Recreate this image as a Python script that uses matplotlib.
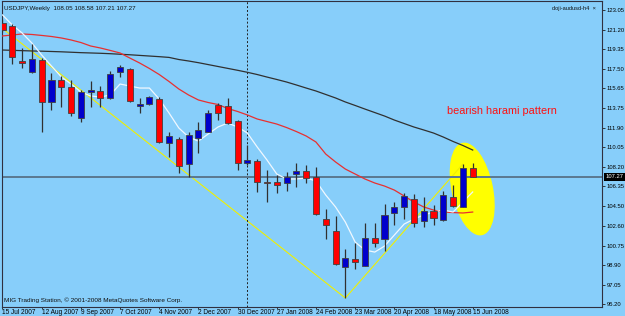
import matplotlib
matplotlib.use("Agg")
import matplotlib.pyplot as plt
import numpy as np
from matplotlib.patches import Ellipse
from matplotlib.transforms import ScaledTranslation, blended_transform_factory

# weekly USDJPY candles, 15 Jul 2007 .. 15 Jun 2008
opens = [121.82, 121.54, 118.22, 117.18, 118.32, 114.34, 116.42, 115.76, 112.83, 115.29,
         115.38, 114.72, 117.18, 117.47, 113.96, 114.15, 114.62, 110.46, 110.84, 108.47,
         110.93, 111.50, 114.06, 113.96, 112.54, 108.56, 108.75, 106.76, 106.76, 106.67,
         107.52, 107.81, 107.24, 103.26, 102.12, 98.72, 99.47, 98.81, 101.46, 101.37,
         103.83, 104.40, 105.15, 103.07, 104.02, 103.17, 105.34, 104.40, 108.05]
highs = [122.20, 121.73, 119.45, 119.83, 118.51, 117.09, 116.80, 116.42, 115.48, 116.33,
         115.86, 117.28, 117.84, 117.56, 114.72, 114.91, 114.81, 111.50, 111.03, 111.50,
         112.45, 113.58, 114.25, 114.72, 112.64, 110.27, 108.94, 107.90, 107.43, 107.71,
         108.56, 108.37, 108.18, 104.21, 103.54, 100.42, 100.99, 102.88, 102.88, 104.68,
         104.87, 105.72, 105.63, 105.34, 104.59, 105.91, 106.48, 108.47, 108.58]
lows = [120.97, 117.94, 117.56, 117.09, 111.50, 113.58, 113.87, 113.01, 112.45, 113.87,
        113.87, 114.62, 116.71, 114.34, 113.30, 114.06, 110.46, 109.13, 107.62, 107.24,
        109.51, 111.50, 112.64, 112.26, 107.90, 108.37, 105.82, 104.87, 105.72, 105.91,
        106.29, 106.67, 103.64, 101.37, 98.90, 95.78, 98.53, 98.81, 100.61, 100.23,
        102.69, 103.26, 102.50, 102.50, 102.69, 103.07, 104.40, 104.40, 107.21]
closes = [121.16, 118.60, 118.03, 118.41, 114.34, 116.42, 115.76, 113.30, 115.29, 115.48,
          114.72, 116.99, 117.66, 114.44, 114.15, 114.81, 110.55, 111.12, 108.28, 111.22,
          111.69, 113.30, 113.30, 112.35, 108.56, 108.85, 106.76, 106.67, 106.48, 107.24,
          107.81, 107.14, 103.73, 102.69, 99.00, 99.57, 99.19, 101.46, 100.99, 103.64,
          104.40, 105.44, 102.88, 104.02, 103.35, 105.53, 104.49, 108.09, 107.27]

ma_fast = [122.58, 121.63, 120.87, 119.92, 118.79, 117.75, 116.71, 116.04, 115.29, 114.91,
           114.81, 115.00, 116.04, 115.85, 115.66, 115.66, 114.62, 113.30, 111.88, 111.02,
           110.64, 111.31, 111.97, 112.35, 111.97, 111.40, 110.08, 108.85, 107.52, 107.05,
           107.05, 107.14, 106.86, 105.53, 104.40, 102.97, 101.08, 100.32, 100.13, 100.70,
           101.74, 102.78, 103.26, 103.64, 103.92, 104.11, 103.92, 104.87, 105.82]
ma_mid = [120.59, 120.68, 120.78, 120.73, 120.64, 120.54, 120.40, 120.21, 119.97, 119.64,
          119.45, 119.22, 118.98, 118.50, 118.03, 117.51, 116.94, 116.28, 115.57, 115.00,
          114.53, 114.29, 114.10, 113.72, 113.44, 113.11, 112.73, 112.49, 112.25, 111.92,
          111.54, 111.12, 110.55, 109.41, 108.66, 107.99, 107.52, 107.05, 106.67, 106.38,
          106.00, 105.44, 104.87, 104.40, 104.11, 103.92, 103.87, 103.83, 103.92]
ma_slow = [119.26, 119.23, 119.20, 119.17, 119.15, 119.12, 119.09, 119.05, 119.01, 118.98,
           118.95, 118.91, 118.86, 118.81, 118.75, 118.69, 118.63, 118.56, 118.36, 118.22,
           118.06, 117.88, 117.70, 117.52, 117.34, 117.15, 116.94, 116.70, 116.47, 116.23,
           115.95, 115.66, 115.38, 115.05, 114.72, 114.34, 114.01, 113.67, 113.34, 113.01,
           112.63, 112.30, 111.97, 111.69, 111.40, 111.02, 110.60, 110.22, 109.79]

zigzag_idx = [0, 35, 47]
zigzag_price = [121.30, 95.78, 108.47]

date_labels = ["15 Jul 2007", "12 Aug 2007", "9 Sep 2007", "7 Oct 2007", "4 Nov 2007",
               "2 Dec 2007", "30 Dec 2007", "27 Jan 2008", "24 Feb 2008", "23 Mar 2008",
               "20 Apr 2008", "18 May 2008", "15 Jun 2008"]
price_ticks = [123.05, 121.20, 119.35, 117.50, 115.65, 113.75, 111.90, 110.05, 108.20,
               106.35, 104.50, 102.60, 100.75, 98.90, 97.05, 95.20]
bid = 107.27
year_sep = 25

plt.rcParams["font.family"] = ["Liberation Sans", "DejaVu Sans"]
bg = "#87cefa"
fig = plt.figure(figsize=(6.25, 3.16), dpi=100, facecolor=bg)
ax = fig.add_axes([2 / 625, 9 / 316, 600 / 625, 306 / 316], facecolor=bg)

x = np.arange(len(opens))
o = np.array(opens)
c = np.array(closes)
up = c >= o

ax.vlines(x, lows, highs, color="#303030", lw=0.9, zorder=4)
ax.bar(x[up], (c - o)[up], bottom=o[up], width=0.62, color="#0000cc",
       edgecolor="#404040", lw=0.6, zorder=5)
ax.bar(x[~up], (o - c)[~up], bottom=c[~up], width=0.62, color="#ff0000",
       edgecolor="#404040", lw=0.6, zorder=5)

ax.plot(x, ma_slow, color="#303030", lw=0.9, zorder=3)
ax.plot(x, ma_mid, color="#e83030", lw=0.9, zorder=3)
ax.plot(x, ma_fast, color="#f0f8ff", lw=0.9, zorder=3)
ax.plot(zigzag_idx, zigzag_price, color="#f0f000", lw=0.8, zorder=2)

ax.axhline(bid, color="#5a7890", lw=1.4, zorder=2.5)
ax.axvline(year_sep, color="#202020", lw=0.7, ls=(0, (2, 2)), zorder=2)

# highlight around the last two weekly candles
ell = Ellipse((0, 0), 0.40, 0.93, angle=12, color="#ffff00", zorder=1,
              transform=fig.dpi_scale_trans + ScaledTranslation(47.95, 106.1, ax.transData))
ax.add_patch(ell)

ax.text(0.742, 0.64, "bearish harami pattern", transform=ax.transAxes, color="#ff1010",
        fontsize=7.8, va="center", ha="left")

ax.set_xlim(-0.05, 61.2)
ax.set_ylim(94.93, 123.9)

ax.yaxis.tick_right()
ax.set_yticks(price_ticks)
ax.set_yticklabels([f"{p:.2f}" for p in price_ticks], fontsize=4.2)
ax.set_xticks(np.arange(0, len(opens), 4))
ax.set_xticklabels(date_labels, ha="left", fontsize=4.7)
ax.tick_params(axis="y", length=2, width=0.6, color="#202020", pad=1.5)
ax.tick_params(axis="x", length=1.2, width=0.6, color="#202020", pad=0.2)

for sp in ax.spines.values():
    sp.set_color("#303040")
    sp.set_linewidth(0.8)

tb = blended_transform_factory(ax.transAxes, ax.transData)
ax.text(1.006, bid, f"{bid:.2f}", transform=tb, fontsize=4.2, color="white",
        va="center", ha="left", bbox=dict(facecolor="black", edgecolor="none", pad=1.0),
        zorder=10)

ax.text(0.003, 0.985, "USDJPY,Weekly  108.05 108.58 107.21 107.27", transform=ax.transAxes,
        fontsize=4.5, va="top", ha="left", color="#101010")
ax.text(0.99, 0.985, "doji-audusd-h4  \u00d7", transform=ax.transAxes,
        fontsize=4.1, va="top", ha="right", color="#101010")
ax.text(0.003, 0.012, "MIG Trading Station, \u00a9 2001-2008 MetaQuotes Software Corp.",
        transform=ax.transAxes, fontsize=4.6, va="bottom", ha="left", color="#101010")

fig.savefig("out.png", dpi=100, facecolor=bg)
